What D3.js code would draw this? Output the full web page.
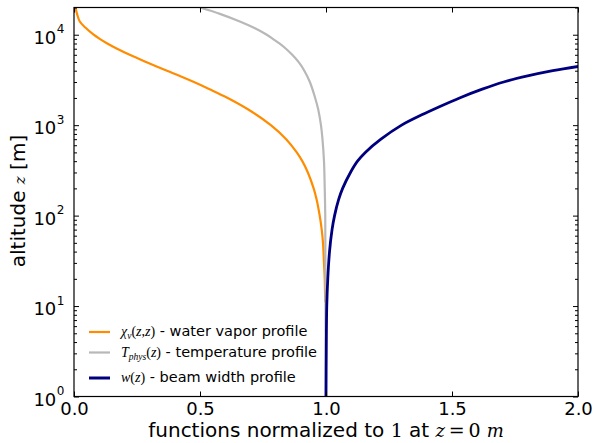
<!DOCTYPE html>
<html><head><meta charset="utf-8">
<script src="https://cdn.jsdelivr.net/npm/d3@7"></script>
<style>body{margin:0;background:#fff} svg{display:block}</style>
</head><body><svg id="c" width="594" height="443"></svg>
<script>
// ---- data ----
const xTicks = [0, 0.5, 1.0, 1.5, 2.0];
const xTickLabels = ["0.0", "0.5", "1.0", "1.5", "2.0"];
const yTicks = [1, 10, 100, 1000, 10000];
const yTickExps = ["0", "1", "2", "3", "4"];

// water vapour profile (altitude m, normalised value)
const waterAlt = [11, 15, 20, 30, 50, 70, 100, 150, 200, 300, 400, 500, 700, 1000, 1500, 2000, 2500, 3000, 3500, 4000, 5000, 6000, 7000, 8000, 9000, 10000, 12000, 14000, 17000, 20000];
const waterVal = [0.997, 0.996, 0.995, 0.992, 0.988, 0.983, 0.975, 0.963, 0.951, 0.928, 0.906, 0.884, 0.842, 0.781, 0.690, 0.610, 0.538, 0.476, 0.420, 0.369, 0.286, 0.221, 0.171, 0.132, 0.102, 0.078, 0.045, 0.023, 0.012, 0.006];

// temperature profile
const tempAlt = [1, 10, 100, 200, 400, 700, 1000, 1500, 2000, 3000, 4000, 5000, 6000, 7000, 8000, 9000, 10000, 12000, 14000, 17000, 20000];
const tempVal = [0.999, 0.998, 0.997, 0.995, 0.992, 0.986, 0.980, 0.969, 0.957, 0.936, 0.914, 0.891, 0.866, 0.841, 0.815, 0.789, 0.765, 0.712, 0.658, 0.579, 0.500];

// beam width profile
const beamAlt = [1, 3, 10, 20, 40, 70, 100, 150, 200, 300, 400, 500, 700, 1000, 1300, 1600, 2000, 2500, 3000, 3500, 4000, 4500];
const beamVal = [1.000, 1.001, 1.003, 1.007, 1.014, 1.024, 1.034, 1.050, 1.066, 1.097, 1.125, 1.156, 1.218, 1.300, 1.380, 1.450, 1.530, 1.620, 1.705, 1.800, 1.900, 2.010];

const seriesColors = ["#ff8c00", "#b8b8b8", "#00007f"];
const legendLabels = [
  [["χ","m"],["ν","sub"],["(","r"],["z","m"],[",","r"],["z","m"],[")","r"],[" - water vapor profile","s"]],
  [["T","m"],["phys","sub"],["(","r"],["z","m"],[")","r"],[" - temperature profile","s"]],
  [["w","m"],["(","r"],["z","m"],[")","r"],[" - beam width profile","s"]]
];

// ---- layout ----
const L = 74, R = 578, T = 7.5, B = 396.5;
const svg = d3.select("#c");
const x = d3.scaleLinear().domain([0, 2]).range([L, R]);
const y = d3.scaleLog().domain([1, 20000]).range([B, T]);

svg.append("defs").append("clipPath").attr("id", "clip")
  .append("rect").attr("x", L).attr("y", T).attr("width", R - L).attr("height", B - T);

const series = [
  {alt: waterAlt, val: waterVal, w: 2.2},
  {alt: tempAlt, val: tempVal, w: 2.2},
  {alt: beamAlt, val: beamVal, w: 2.8}
];
const line = d3.line().x(d => x(d[1])).y(d => y(d[0])).curve(d3.curveCatmullRom.alpha(0.5));
const g = svg.append("g").attr("clip-path", "url(#clip)");
series.forEach((s, i) => {
  g.append("path").datum(s.alt.map((a, k) => [a, s.val[k]]))
    .attr("d", line).attr("fill", "none")
    .attr("stroke", seriesColors[i]).attr("stroke-width", s.w);
});

// ---- axes (inward ticks on all sides) ----
const minor = [];
for (let e = 0; e < 5; e++) for (let m = 2; m <= 9; m++) { const v = m * Math.pow(10, e); if (v <= 20000) minor.push(v); }

function styleAxis(sel) {
  sel.select(".domain").remove();
  sel.selectAll(".tick line").attr("stroke", "#000").attr("stroke-width", 1);
}
svg.append("g").attr("transform", `translate(0,${B})`)
  .call(d3.axisBottom(x).tickValues(xTicks).tickSize(-5).tickSizeOuter(0).tickPadding(5.5).tickFormat((d, i) => xTickLabels[i]))
  .call(styleAxis)
  .selectAll("text").attr("font-family", "DejaVu Sans").attr("font-size", 18).attr("fill", "#000");
svg.append("g").attr("transform", `translate(0,${T})`)
  .call(d3.axisTop(x).tickValues(xTicks).tickSize(-5).tickSizeOuter(0).tickFormat(""))
  .call(styleAxis);
svg.append("g").attr("transform", `translate(${L},0)`)
  .call(d3.axisLeft(y).tickValues(yTicks).tickSize(-5).tickSizeOuter(0).tickFormat(""))
  .call(styleAxis);
svg.append("g").attr("transform", `translate(${L},0)`)
  .call(d3.axisLeft(y).tickValues(minor).tickSize(-3).tickSizeOuter(0).tickFormat(""))
  .call(styleAxis);
svg.append("g").attr("transform", `translate(${R},0)`)
  .call(d3.axisRight(y).tickValues(yTicks).tickSize(-5).tickSizeOuter(0).tickFormat(""))
  .call(styleAxis);
svg.append("g").attr("transform", `translate(${R},0)`)
  .call(d3.axisRight(y).tickValues(minor).tickSize(-3).tickSizeOuter(0).tickFormat(""))
  .call(styleAxis);

// y tick labels 10^n
yTicks.forEach((t, i) => {
  svg.append("text").attr("x", 56.3).attr("y", y(t) + 9).attr("text-anchor", "end")
    .attr("font-family", "DejaVu Sans").attr("font-size", 18).text("10");
  svg.append("text").attr("x", 56.8).attr("y", y(t) - 1.5)
    .attr("font-family", "DejaVu Sans").attr("font-size", 12).text(yTickExps[i]);
});

// frame
svg.append("rect").attr("x", L).attr("y", T).attr("width", R - L).attr("height", B - T)
  .attr("fill", "none").attr("stroke", "#000").attr("stroke-width", 1.2);

// axis labels
const xl = svg.append("text").attr("x", (L + R) / 2).attr("y", 436.5).attr("text-anchor", "middle")
  .attr("font-family", "DejaVu Sans").attr("font-size", 20);
xl.append("tspan").text("functions normalized to ");
xl.append("tspan").attr("font-family", "DejaVu Serif").attr("font-size", 19).text("1");
xl.append("tspan").text(" at ");
xl.append("tspan").attr("font-family", "DejaVu Serif").attr("font-style", "italic").attr("font-size", 18).text("z");
xl.append("tspan").attr("font-family", "DejaVu Serif").attr("font-size", 19).text("\u2009=\u20090 ");
xl.append("tspan").attr("font-family", "DejaVu Serif").attr("font-style", "italic").attr("font-size", 18).text("m");

const yl = svg.append("text").attr("transform", `translate(25,201) rotate(-90)`).attr("text-anchor", "middle")
  .attr("font-family", "DejaVu Sans").attr("font-size", 20);
yl.append("tspan").text("altitude ");
yl.append("tspan").attr("font-family", "DejaVu Serif").attr("font-style", "italic").attr("font-size", 15).text("z");
yl.append("tspan").text(" [m]");

// legend
const legLineY = [332, 352.5, 378];
const legBase = [336, 357, 382];
legendLabels.forEach((segs, i) => {
  svg.append("line").attr("x1", 89).attr("x2", 110).attr("y1", legLineY[i]).attr("y2", legLineY[i])
    .attr("stroke", seriesColors[i]).attr("stroke-width", i === 2 ? 3 : 2.2);
  const t = svg.append("text").attr("x", 121).attr("y", legBase[i]).attr("font-family", "DejaVu Sans").attr("font-size", 14.5);
  let sub = false;
  segs.forEach(([txt, kind]) => {
    const ts = t.append("tspan").text(txt);
    let dy = 0;
    if (kind === "sub") { dy = sub ? 0 : 3; sub = true; }
    else if (sub) { dy = -3; sub = false; }
    if (dy) ts.attr("dy", dy);
    if (kind === "m") ts.attr("font-family", "Liberation Serif").attr("font-style", "italic").attr("font-size", 14);
    else if (kind === "r") ts.attr("font-family", "Liberation Serif").attr("font-size", 14);
    else if (kind === "sub") ts.attr("font-family", "Liberation Serif").attr("font-style", "italic").attr("font-size", 9.5);
  });
});
</script></body></html>
